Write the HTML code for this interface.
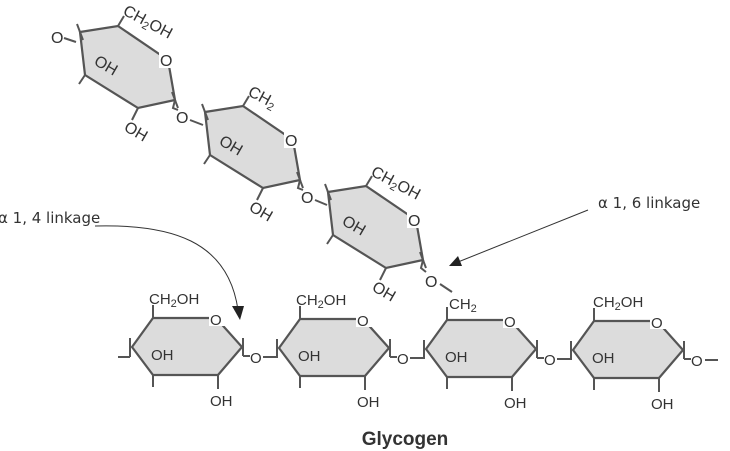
<!DOCTYPE html>
<html><head><meta charset="utf-8"><style>
html,body{margin:0;padding:0;background:#fff;}
svg{display:block;}
.t{font-family:"Liberation Sans",sans-serif;font-size:15px;fill:#333;}
.r{font-family:"Liberation Sans",sans-serif;font-size:16px;fill:#333;}
.l{font-family:"DejaVu Sans","Liberation Sans",sans-serif;font-size:15px;fill:#333;}
</style></head><body>
<svg width="730" height="451" viewBox="0 0 730 451" xmlns="http://www.w3.org/2000/svg">
<defs>
<g id="bh">
  <polygon points="0,0 21,-29 84,-29 110,0 86,28 21,28" fill="#dcdcdc" stroke="#555" stroke-width="2.2"/>
  <rect x="77" y="-39" width="16" height="18" fill="#fff"/>
  <text x="78" y="-22" class="t" font-size="17">O</text>
  <line x1="21" y1="-29" x2="21" y2="-42" stroke="#555" stroke-width="2"/>
  <line x1="21" y1="28" x2="21" y2="40" stroke="#555" stroke-width="2"/>
  <line x1="86" y1="28" x2="86" y2="42" stroke="#555" stroke-width="2"/>
  <line x1="-2" y1="-9" x2="-2" y2="10" stroke="#555" stroke-width="2"/>
  <line x1="111" y1="-9" x2="111" y2="9" stroke="#555" stroke-width="2"/>
  <polyline points="111,9 118,9" fill="none" stroke="#555" stroke-width="2"/>
  <text x="19" y="13" class="t">OH</text>
  <text x="78" y="59" class="t">OH</text>
</g>
<g id="th">
  <polygon points="0,0 38,-6 88,28 95,68 58,76 5,43" fill="#dcdcdc" stroke="#555" stroke-width="2.2"/>
  <rect x="79" y="18" width="16" height="18" fill="#fff"/>
  <text x="80" y="34" class="r" font-size="17">O</text>
  <line x1="38" y1="-6" x2="44" y2="-16" stroke="#555" stroke-width="2"/>
  <line x1="58" y1="76" x2="52" y2="88" stroke="#555" stroke-width="2"/>
  <line x1="5" y1="43" x2="-1" y2="52" stroke="#555" stroke-width="2"/>
  <line x1="-3" y1="-8" x2="3" y2="8" stroke="#555" stroke-width="2"/>
  <line x1="92" y1="60" x2="98" y2="76" stroke="#555" stroke-width="2"/>
  <text x="13" y="32" class="r" transform="rotate(30 13 32)">OH</text>
  <text x="43" y="98" class="r" transform="rotate(30 43 98)">OH</text>
</g>
</defs>

<use href="#th" x="80" y="32"/>
<use href="#th" x="205" y="112"/>
<use href="#th" x="328" y="192"/>
<text x="122" y="14" class="r" transform="rotate(28 122 14)">CH<tspan font-size="11" dy="3">2</tspan><tspan dy="-3">OH</tspan></text>
<text x="247" y="95" class="r" transform="rotate(28 247 95)">CH<tspan font-size="11" dy="3">2</tspan></text>
<text x="370" y="175" class="r" transform="rotate(28 370 175)">CH<tspan font-size="11" dy="3">2</tspan><tspan dy="-3">OH</tspan></text>
<text x="51" y="43" class="r">O</text>
<line x1="64" y1="38" x2="76" y2="42" stroke="#555" stroke-width="2"/>
<polyline points="175,100 173,108 178,110" fill="none" stroke="#555" stroke-width="2"/>
<text x="176" y="123" class="r">O</text>
<line x1="190" y1="120" x2="203" y2="125" stroke="#555" stroke-width="2"/>
<polyline points="300,180 298,188 303,190" fill="none" stroke="#555" stroke-width="2"/>
<text x="301" y="203" class="r">O</text>
<line x1="315" y1="200" x2="327" y2="205" stroke="#555" stroke-width="2"/>
<polyline points="423,260 421,268 426,272" fill="none" stroke="#555" stroke-width="2"/>
<text x="425" y="287" class="r">O</text>
<line x1="440" y1="284" x2="452" y2="292" stroke="#555" stroke-width="2"/>
<text x="449" y="309" class="t">CH<tspan font-size="11" dy="3">2</tspan></text>

<use href="#bh" x="132" y="347"/>
<use href="#bh" x="279" y="348"/>
<use href="#bh" x="426" y="349"/>
<use href="#bh" x="573" y="350"/>
<line x1="118" y1="357" x2="130" y2="357" stroke="#555" stroke-width="2"/>
<text x="149" y="304" class="t">CH<tspan font-size="11" dy="3">2</tspan><tspan dy="-3">OH</tspan></text>
<text x="296" y="305" class="t">CH<tspan font-size="11" dy="3">2</tspan><tspan dy="-3">OH</tspan></text>
<text x="593" y="307" class="t">CH<tspan font-size="11" dy="3">2</tspan><tspan dy="-3">OH</tspan></text>
<text x="250" y="363" class="t" font-size="16">O</text>
<line x1="263" y1="357" x2="277" y2="357" stroke="#555" stroke-width="2"/>
<text x="397" y="364" class="t" font-size="16">O</text>
<line x1="410" y1="358" x2="424" y2="358" stroke="#555" stroke-width="2"/>
<text x="544" y="365" class="t" font-size="16">O</text>
<line x1="557" y1="359" x2="571" y2="359" stroke="#555" stroke-width="2"/>
<text x="691" y="366" class="t" font-size="16">O</text>
<line x1="705" y1="360" x2="718" y2="360" stroke="#555" stroke-width="2"/>

<text x="-2" y="223" class="l">α 1, 4 linkage</text>
<path d="M95,226 C170,224 228,240 238,310" fill="none" stroke="#333" stroke-width="1"/>
<polygon points="232,306 244,306 240,320" fill="#222"/>
<text x="598" y="208" class="l">α 1, 6 linkage</text>
<line x1="588" y1="210" x2="458" y2="262" stroke="#333" stroke-width="1"/>
<polygon points="449,266 458,256 462,266" fill="#222"/>

<text x="405" y="445" text-anchor="middle" font-family="Liberation Sans, sans-serif" font-weight="bold" font-size="19" fill="#333">Glycogen</text>
</svg>
</body></html>
